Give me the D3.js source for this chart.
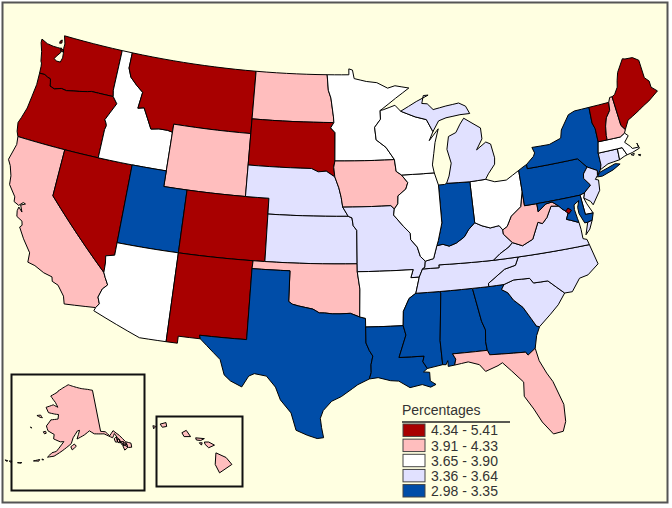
<!DOCTYPE html>
<html>
<head>
<meta charset="UTF-8">
<title>Percentages by state</title>
<script src="https://d3js.org/d3.v7.min.js"></script>
<style>
  html, body { margin: 0; padding: 0; background: #fff; }
  svg { display: block; }
  text { font-family: "Liberation Sans", Arial, sans-serif; fill: #333; }
</style>
</head>
<body>
<svg id="map" width="672" height="508"></svg>
<script>
// legend classes, top to bottom
const classLabels = ["4.34 - 5.41", "3.91 - 4.33", "3.65 - 3.90", "3.36 - 3.64", "2.98 - 3.35"];
const legendTitle = "Percentages";

// class of each state
const class1 = ["WA", "OR", "MT", "SD", "NV", "CO", "NM", "VT", "ME", "DC"];
const class2 = ["CA", "ND", "WY", "IA", "OK", "WV", "NH", "FL", "AK", "HI"];
const class3 = ["ID", "AZ", "MN", "WI", "IL", "OH", "AR", "MA", "DE", "RI"];
const class4 = ["NE", "KS", "MO", "MI", "KY", "TN", "NC", "VA", "SC", "NJ", "CT"];
const class5 = ["UT", "TX", "LA", "MS", "AL", "GA", "IN", "NY", "PA", "MD"];

// shared borders, lon/lat
const columbia = [[-124.0,46.25],[-123.5,46.26],[-123.2,46.15],[-122.9,46.1],[-122.8,45.85],[-122.75,45.65],[-122.3,45.55],[-121.7,45.7],[-121.2,45.65],[-120.6,45.74],[-120.0,45.82],[-119.3,45.93],[-118.98,46.0],[-116.92,46.0]];
const snake = [[-116.92,46.0],[-116.46,45.6],[-116.85,45.0],[-117.2,44.45],[-117.03,44.25],[-116.95,44.1],[-117.03,43.83],[-117.03,42.0]];
const idMt = [[-116.05,49],[-116.05,48.0],[-115.7,47.45],[-115.0,47.0],[-114.35,46.65],[-114.5,45.6],[-113.95,45.7],[-113.45,45.05],[-113.0,44.45],[-112.3,44.55],[-111.5,44.55],[-111.05,44.48]];
const redNorth = [[-97.23,49],[-97.1,48.0],[-96.85,47.5],[-96.6,46.3],[-96.56,45.94]];
const missouriUp = [[-98.5,43.0],[-97.9,42.8],[-97.2,42.85],[-96.45,42.49]];
const missouriMid = [[-96.45,42.49],[-96.1,41.8],[-95.9,41.2],[-95.77,40.58]];
const missouriLow = [[-95.77,40.58],[-95.31,40.0],[-95.0,39.9],[-94.9,39.4],[-94.61,39.11]];
const redSouth = [[-94.48,33.64],[-95.2,33.88],[-96.0,33.85],[-96.6,33.85],[-97.2,33.9],[-97.6,33.9],[-98.1,34.13],[-99.2,34.3],[-99.7,34.4],[-100.0,34.56]];
const sabine = [[-94.04,31.99],[-93.8,31.5],[-93.55,31.15],[-93.7,30.6],[-93.7,30.1],[-93.85,29.7]];
const mississippiUp = [[-91.2,43.5],[-91.1,42.75],[-90.65,42.5]];
const mississippiIl = [[-90.65,42.5],[-90.15,42.0],[-90.35,41.6],[-91.05,41.2],[-91.1,40.7],[-91.42,40.38]];
const mississippiMo = [[-91.42,40.38],[-91.5,40.0],[-90.72,39.25],[-90.2,38.8],[-90.2,38.4],[-89.7,37.9],[-89.5,37.3],[-89.13,36.98]];
const mississippiAr = [[-89.7,36.0],[-90.05,35.0]];
const mississippiMs = [[-90.05,35.0],[-90.6,34.7],[-91.1,33.9],[-91.17,33.0]];
const ohioRiver = [[-82.6,38.42],[-82.85,38.72],[-83.6,38.65],[-84.25,38.85],[-84.82,39.1]];
const ohioIn = [[-84.82,39.1],[-85.4,38.7],[-85.8,38.28],[-86.5,37.95],[-87.1,37.8],[-87.6,37.95],[-88.1,37.9]];
const ohioIl = [[-88.1,37.9],[-88.45,37.1],[-89.13,36.98]];
const ohioWv = [[-80.52,40.64],[-80.85,39.7],[-81.75,39.2],[-82.2,38.6],[-82.6,38.42]];
const tnTop = [[-89.4,36.5],[-88.07,36.5],[-88.07,36.68],[-83.68,36.6]];
const tnNc = [[-81.68,36.59],[-82.0,36.1],[-82.9,35.95],[-83.65,35.55],[-84.3,35.2],[-84.32,34.99]];
const savannah = [[-83.1,35],[-83.35,34.7],[-82.9,34.45],[-82.55,33.95],[-81.9,33.4],[-81.4,32.6],[-81.1,32.1],[-80.88,32.03]];
const ncSc = [[-83.1,35],[-82.3,35.2],[-81.05,35.15],[-80.8,34.82],[-79.67,34.8],[-78.55,33.86]];
const kyVa = [[-83.68,36.6],[-83.1,36.95],[-82.3,37.3],[-81.97,37.54]];
const kyWv = [[-81.97,37.54],[-82.6,38.15],[-82.6,38.42]];
const vaWv = [[-81.97,37.54],[-81.2,37.25],[-80.3,37.55],[-79.65,38.55],[-79.3,38.42],[-78.85,38.75],[-78.35,39.4],[-77.72,39.32]];
const potomacLow = [[-76.35,38.05],[-77.0,38.3],[-77.3,38.4],[-77.05,38.8],[-77.5,39.1],[-77.72,39.32]];
const potomacUp = [[-77.72,39.32],[-78.2,39.65],[-78.75,39.6],[-79.48,39.2],[-79.48,39.72]];
const delaware = [[-74.7,41.36],[-75.13,40.98],[-75.2,40.7],[-74.75,40.2],[-75.4,39.8]];
const hudson = [[-74.7,41.36],[-73.92,41.0],[-74.0,40.7]];
const wiMiBorder = [[-90.4,46.55],[-89.1,46.13],[-88.1,45.9],[-87.6,45.1]];
const vtNh = [[-71.5,45.01],[-71.6,44.5],[-72.05,44.1],[-72.3,43.6],[-72.45,43.0],[-72.46,42.73]];
const vtNy = [[-73.34,45.01],[-73.4,44.0],[-73.25,43.6],[-73.27,42.75]];
const ctNy = [[-73.5,42.05],[-73.5,41.3],[-73.65,41.0]];
const crest = [[-71.08,45.3],[-70.98,43.4],[-70.7,43.07]];

const r = a => a.slice().reverse();

// state outlines, lon/lat
const stateShapes = {
  WA: [[[-122.75,49],[-117.04,49],[-117.04,46.4],...r(columbia),[-124.05,46.7],[-124.1,46.9],[-124.2,47.0],[-124.4,47.6],[-124.7,48.15],[-124.72,48.38],[-124.1,48.2],[-123.5,48.15],[-123.1,48.15],[-122.75,48.15],[-122.65,47.9],[-122.95,47.6],[-123.1,47.4],[-122.8,47.3],[-122.45,47.3],[-122.35,47.6],[-122.4,47.9],[-122.5,48.2],[-122.5,48.5]],
      [[-123.0,48.6],[-122.85,48.7],[-122.8,48.5],[-123.0,48.45]],[[-122.75,48.2],[-122.45,48.05],[-122.55,47.95],[-122.7,48.05]]],
  OR: [[...columbia,...snake,[-124.2,42.0],[-124.4,42.3],[-124.55,42.85],[-124.4,43.2],[-124.15,43.9],[-124.05,44.7],[-123.95,45.5]]],
  CA: [[[-124.2,42.0],[-120,42],[-120,39],[-114.63,35.0],[-114.45,34.7],[-114.15,34.27],[-114.5,33.95],[-114.7,33.4],[-114.5,33.0],[-114.72,32.72],[-117.12,32.53],[-117.3,33.0],[-117.9,33.6],[-118.4,33.75],[-118.5,34.02],[-119.2,34.15],[-120.0,34.45],[-120.6,34.55],[-120.65,35.15],[-121.4,35.9],[-121.95,36.55],[-121.8,36.7],[-121.9,36.95],[-122.4,37.15],[-122.5,37.5],[-122.45,37.75],[-122.1,37.5],[-122.35,37.9],[-122.0,38.05],[-122.2,38.1],[-122.5,37.85],[-122.95,38.0],[-123.0,38.3],[-123.7,38.95],[-123.8,39.5],[-124.1,40.1],[-124.4,40.45],[-124.1,41.5]]],
  NV: [[[-120,42],[-114.04,42],[-114.05,37],[-114.05,36.2],[-114.74,36.05],[-114.65,35.6],[-114.63,35.0],[-120,39]]],
  ID: [[[-117.04,49],[-116.05,49],...idMt.slice(1),[-111.05,42],[-117.03,42],...r(snake).slice(1),[-117.04,46.4]]],
  MT: [[...idMt,[-111.05,45],[-104.05,45],[-104.05,49]]],
  WY: [[[-111.05,45],[-104.05,45],[-104.05,41],[-111.05,41]]],
  UT: [[[-114.04,42],[-111.05,42],[-111.05,41],[-109.05,41],[-109.05,37],[-114.05,37]]],
  AZ: [[[-114.05,37],[-109.05,37],[-109.05,31.33],[-111.07,31.33],[-114.81,32.5],[-114.72,32.72],[-114.5,33.0],[-114.7,33.4],[-114.5,33.95],[-114.15,34.27],[-114.45,34.7],[-114.63,35.0],[-114.65,35.6],[-114.74,36.05],[-114.05,36.2]]],
  CO: [[[-109.05,41],[-102.05,41],[-102.05,37],[-109.05,37]]],
  NM: [[[-109.05,37],[-103.0,37],[-103.04,36.5],[-103.05,32],[-106.62,32],[-106.53,31.78],[-108.2,31.78],[-108.2,31.33],[-109.05,31.33]]],
  ND: [[[-104.05,49],...redNorth,[-104.05,45.94]]],
  SD: [[[-104.05,45.94],[-96.56,45.94],[-96.85,45.6],[-96.45,45.3],[-96.45,43.5],[-96.55,43.1],...r(missouriUp),[-104.05,43]]],
  NE: [[[-104.05,43],...missouriUp,...missouriMid.slice(1),[-95.31,40.0],[-102.05,40],[-102.05,41],[-104.05,41]]],
  KS: [[[-102.05,40],[-95.31,40],...missouriLow.slice(2),[-94.62,37],[-102.05,37]]],
  OK: [[[-103,37],[-94.62,37],[-94.62,36.5],[-94.43,35.4],...redSouth,[-100,36.5],[-103.04,36.5]]],
  TX: [[[-106.62,32],[-103.05,32],[-103.04,36.5],[-100,36.5],...r(redSouth),[-94.04,33.55],[-94.04,33.0],...sabine,[-94.7,29.35],[-95.1,29.1],[-95.9,28.6],[-96.6,28.3],[-97.2,27.7],[-97.4,27.2],[-97.3,26.6],[-97.15,25.96],[-97.6,25.9],[-98.3,26.1],[-99.1,26.4],[-99.5,27.5],[-100.3,28.3],[-100.7,29.1],[-101.4,29.77],[-102.3,29.88],[-102.7,29.7],[-103.15,28.98],[-104.0,29.3],[-104.5,29.65],[-104.9,30.6],[-106.0,31.4],[-106.53,31.78]]],
  MN: [[[-97.23,49],[-95.15,49],[-95.15,49.38],[-94.8,49.3],[-94.65,48.75],[-93.5,48.55],[-92.5,48.45],[-91.5,48.07],[-90.8,48.2],[-89.5,48.0],[-90.8,47.4],[-92.1,46.75],[-92.29,46.66],[-92.29,46.1],[-92.85,45.6],[-92.75,44.8],[-91.9,44.3],[-91.2,43.5],[-96.45,43.5],[-96.45,45.3],[-96.85,45.6],...r(redNorth)]],
  IA: [[[-96.45,43.5],...mississippiUp,...mississippiIl.slice(1),[-91.7,40.6],[-95.77,40.58],...r(missouriMid).slice(1),[-96.55,43.1]]],
  MO: [[[-95.77,40.58],[-91.7,40.6],...mississippiMo,[-89.2,36.6],[-89.4,36.5],[-89.7,36],[-90.37,36],[-90.15,36.5],[-94.62,36.5],[-94.62,37],...r(missouriLow)]],
  AR: [[[-94.62,36.5],[-90.15,36.5],[-90.37,36],...mississippiAr,...mississippiMs.slice(1),[-94.04,33],[-94.04,33.55],[-94.48,33.64],[-94.43,35.4]]],
  LA: [[[-94.04,33],[-91.17,33],[-91.0,32.4],[-91.6,31],[-89.73,31],[-89.85,30.65],[-89.55,30.2],[-89.85,30.0],[-89.4,29.95],[-89.4,29.4],[-89.0,29.15],[-89.4,29.0],[-90.0,29.2],[-90.9,29.05],[-91.7,29.5],[-92.3,29.55],[-93.2,29.77],...r(sabine)]],
  MS: [[[-91.17,33],...r(mississippiMs),[-88.2,35],[-88.1,34.9],[-88.45,31.9],[-88.4,30.37],[-89.55,30.2],[-89.85,30.65],[-89.73,31],[-91.6,31],[-91.0,32.4]]],
  AL: [[[-88.2,35],[-85.6,35],[-85.18,32.87],[-84.96,32.3],[-85.05,31.55],[-85,31],[-87.6,31],[-87.4,30.65],[-87.52,30.28],[-88.0,30.23],[-88.0,30.6],[-88.15,30.35],[-88.4,30.37],[-88.45,31.9],[-88.1,34.9]]],
  GA: [[[-85.6,35],...savannah,[-81.2,31.5],[-81.45,30.72],[-82.05,30.36],[-82.2,30.57],[-84.86,30.7],[-85,31],[-85.05,31.55],[-84.96,32.3],[-85.18,32.87]]],
  FL: [[[-87.6,31],[-85,31],[-84.86,30.7],[-82.2,30.57],[-82.05,30.36],[-81.45,30.72],[-81.3,29.9],[-80.9,29.05],[-80.55,28.45],[-80.05,26.9],[-80.12,25.8],[-80.4,25.2],[-81.1,25.13],[-81.75,26.0],[-82.2,26.9],[-82.75,27.8],[-82.65,28.7],[-83.4,29.5],[-84.0,30.1],[-84.35,29.95],[-85.3,29.68],[-85.7,30.15],[-86.5,30.4],[-87.52,30.28],[-87.4,30.65]]],
  SC: [[...ncSc,[-79.2,33.2],[-79.9,32.7],[-80.88,32.03],...r(savannah).slice(1,-1)]],
  NC: [[[-84.32,34.99],...ncSc,[-77.95,33.85],[-77.2,34.6],[-76.5,34.7],[-75.55,35.25],[-75.9,36.55],[-81.68,36.59],...tnNc.slice(1)]],
  TN: [[[-90.05,35],[-88.2,35],[-85.6,35],[-84.32,34.99],...r(tnNc),[-83.68,36.6],...r(tnTop).slice(1),[-89.7,36]]],
  KY: [[...tnTop,...kyVa.slice(1),...kyWv.slice(1),...ohioRiver.slice(1),...ohioIn.slice(1),...ohioIl.slice(1),[-89.2,36.6]]],
  VA: [[[-83.68,36.6],[-81.68,36.59],[-75.9,36.55],[-76.0,36.9],[-76.3,37.0],[-76.3,37.6],[-76.35,38.05],...potomacLow.slice(1),...r(vaWv).slice(1),...r(kyVa).slice(1)],
       [[-75.25,38.03],[-75.65,37.95],[-76.0,37.2],[-75.6,37.5]]],
  WV: [[[-82.6,38.15],...vaWv,...potomacUp.slice(1),[-80.52,39.72],...ohioWv,[-82.6,38.42]]],
  OH: [[[-84.82,41.7],[-83.45,41.73],[-82.7,41.5],[-81.7,41.5],[-80.52,41.98],...ohioWv,...ohioRiver.slice(1)]],
  IN: [[[-87.53,41.7],[-87.0,41.7],[-86.82,41.76],[-84.82,41.7],...ohioIn,[-87.95,38.2],[-87.53,39.3]]],
  IL: [[[-87.53,41.7],[-87.8,42.49],...mississippiIl,...mississippiMo.slice(1),...r(ohioIl).slice(1),[-87.95,38.2],[-87.53,39.3]]],
  WI: [[[-92.29,46.66],[-92.0,46.7],[-90.9,46.95],...wiMiBorder,[-88.0,44.55],[-87.1,45.25],[-87.5,44.4],[-87.7,43.7],[-87.9,43],[-87.8,42.49],[-90.65,42.5],[-91.1,42.75],[-91.2,43.5],[-91.9,44.3],[-92.75,44.8],[-92.85,45.6],[-92.29,46.1]]],
  MI: [[[-86.82,41.76],[-84.82,41.7],[-83.45,41.73],[-83.15,42.05],[-82.5,42.6],[-82.42,43],[-82.6,43.9],[-83.0,44.07],[-83.9,43.65],[-83.3,44.3],[-83.3,45.0],[-84.7,45.75],[-85.1,45.4],[-85.55,44.9],[-86.25,44.7],[-86.5,43.9],[-86.25,43],[-86.55,42.2]],
       [...wiMiBorder,[-87.0,45.75],[-86.3,45.9],[-85,46],[-84.1,46],[-84.4,46.5],[-85,46.75],[-86.2,46.65],[-87.4,46.5],[-87.9,46.9],[-88.4,46.95],[-88.2,47.45],[-87.75,47.45],[-88.9,47.1]]],
  PA: [[[-80.52,41.98],[-80.1,42.15],[-79.76,42.27],[-79.76,42],[-75.35,42],...delaware,[-75.79,39.72],[-80.52,39.72]]],
  NY: [[[-79.76,42.27],[-79.05,42.7],[-78.9,42.9],[-79.05,43.27],[-77.5,43.25],[-76.4,43.5],[-76.2,44],[-75.3,44.85],[-74.7,45],...vtNy,[-73.5,42.05],...ctNy.slice(1),...r(hudson),[-75.35,42],[-79.76,42]],
       [[-74.03,40.6],[-73.75,40.85],[-72.3,41.15],[-71.9,41.05],[-72.6,40.8],[-73.6,40.58]]],
  NJ: [[...hudson,[-74.25,40.48],[-74,40.4],[-74.1,39.75],[-74.9,38.95],[-75.05,39.2],[-75.55,39.5],...r(delaware).slice(0,-1)]],
  DE: [[[-75.79,39.72],[-75.4,39.8],[-75.55,39.5],[-75.4,39.1],[-75.05,38.45],[-75.7,38.46]]],
  MD: [[[-79.48,39.72],[-75.79,39.72],[-75.7,38.46],[-75.05,38.45],[-75.25,38.03],[-75.65,37.95],[-75.9,37.95],[-76.2,38.6],[-76.2,39.0],[-76.0,39.4],[-76.45,39.2],[-76.5,38.9],[-76.4,38.3],...potomacLow,...potomacUp.slice(1,-1)]],
  DC: [[[-77.0,39.08],[-76.75,38.9],[-77.0,38.72],[-77.25,38.9]]],
  CT: [[[-73.5,42.05],[-71.8,42.02],[-71.85,41.32],[-72.9,41.25],...r(ctNy)]],
  RI: [[[-71.8,42.02],[-71.38,42.02],[-71.12,41.5],[-71.4,41.45],[-71.85,41.32]]],
  MA: [[[-73.5,42.05],[-73.27,42.75],[-71.3,42.7],[-70.85,42.87],[-70.6,42.65],[-71.05,42.3],[-70.65,41.95],[-70.55,41.8],[-70.0,41.78],[-70.05,42.05],[-69.95,41.7],[-70.65,41.55],[-71.12,41.5],[-71.38,42.02],[-71.8,42.02]],
       [[-70.8,41.45],[-70.5,41.47],[-70.6,41.35]],[[-70.2,41.32],[-70.0,41.3],[-70.05,41.22]]],
  VT: [[...vtNy,...r(vtNh)]],
  NH: [[...vtNh,[-71.3,42.7],[-70.85,42.87],...r(crest),[-71.3,45.3]]],
  ME: [[...crest,[-70.25,43.6],[-69.8,43.75],[-69.1,44],[-68.6,44.2],[-68,44.4],[-67,44.85],[-67.45,45.2],[-67.45,45.6],[-67.78,45.9],[-67.8,47.07],[-68.3,47.35],[-69,47.4],[-69.23,47.46],[-70,46.7],[-70.25,46.2],[-70.4,45.8],[-70.8,45.4]]]
};

const alaskaShape = [
  [[-141,69.65],[-141,60.3],[-139,60],[-137.5,58.9],[-135.5,59.8],[-133.5,58.4],[-131.8,56.6],[-130,55.9],[-130.3,55],[-131.5,55.2],[-133,56.2],[-134.5,58],[-135.3,59.1],[-136.5,58.3],[-139.7,59.6],[-144,60],[-146,60.8],[-148.5,60],[-151.8,59.2],[-150.5,61.1],[-151.5,61],[-153.5,59.5],[-154.3,58.2],[-158,56.5],[-161,55.2],[-163.5,54.8],[-162,55.9],[-160.3,56.3],[-157.5,58.6],[-159,58.5],[-162,59],[-162,60],[-165,60.6],[-166.1,61.6],[-165,62.6],[-164.5,63.1],[-161,63.5],[-161,64.5],[-163,64.5],[-166.3,64.6],[-168.1,65.65],[-164.5,66.5],[-161.8,66.1],[-163.5,67.1],[-166.8,68.35],[-163,69.5],[-162.9,69.7],[-160,70.55],[-156.6,71.35],[-152,70.85],[-148,70.4],[-144,70.05]],
  [[-171.7,63.4],[-170,63.7],[-168.8,63.2],[-170,63.2]],
  [[-167,60.2],[-166,60.4],[-165.6,60],[-166.3,59.8]],
  [[-154.5,57.5],[-153,58.1],[-152.2,57.6],[-153.9,56.8]],
  [[-168.5,53.4],[-166.3,54],[-166.5,53.6]],[[-165.5,54.2],[-164.8,54.1],[-165.3,54]],[[-172.5,52.4],[-174,52.1],[-172.8,52.2]],[[-177,51.9],[-176,52],[-176.5,51.7]],[[-178.5,51.8],[-177.5,51.8],[-178,51.6]],
  [[-172.5,60.4],[-172.9,60.4],[-173.1,60.6]],
  [[-136,58],[-134.9,58.3],[-135,57.1],[-135.8,57.2]],[[-134.8,57.8],[-133.9,57.5],[-134.4,56.8],[-134.9,57]],[[-134,57],[-132.6,56.8],[-132.9,56.1],[-133.6,56.2]],[[-133.4,56],[-131.6,55.9],[-131.9,55.2],[-133.2,54.9]],[[-132.4,56.5],[-131.7,56.3],[-132,55.9]]
];

const hawaiiShape = [
  [[-159.75,22.1],[-159.35,22.2],[-159.3,21.95],[-159.6,21.9]],
  [[-160.25,22.0],[-160.05,21.95],[-160.2,21.8]],
  [[-158.25,21.55],[-157.95,21.7],[-157.65,21.3],[-158.1,21.3]],
  [[-157.3,21.22],[-156.7,21.17],[-156.95,21.05],[-157.25,21.08]],
  [[-157.05,20.9],[-156.85,20.9],[-156.9,20.75]],
  [[-156.7,20.95],[-156.4,20.95],[-156.0,20.75],[-156.4,20.58],[-156.65,20.8]],
  [[-155.9,20.25],[-155.2,19.95],[-154.8,19.5],[-155.65,18.95],[-155.95,19.5]]
];

const mapProjection = d3.geoAlbers().rotate([96, 0]).center([0, 37.5]).scale(900).translate([340, 256]);
const akProjection = d3.geoConicEqualArea().parallels([55, 65]).rotate([154, 0]).center([0, 63]).scale(257).translate([72, 422]);
const hiProjection = d3.geoMercator().rotate([157, 0]).center([0, 20.5]).scale(830).translate([200, 449]);

// long edges are split so parallels keep their curve in the projection
function split(ring) {
  const out = [];
  ring.forEach((p, i) => {
    const q = ring[(i + 1) % ring.length];
    const n = Math.max(Math.ceil(Math.abs(q[0] - p[0])), 1);
    for (let k = 0; k < n; k++) {
      out.push([p[0] + (q[0] - p[0]) * k / n, p[1] + (q[1] - p[1]) * k / n]);
    }
  });
  out.push(out[0]);
  return out;
}

function pathFor(projection) {
  return d3.geoPath(d3.geoTransform({
    point(x, y) { const p = projection([x, y]); this.stream.point(p[0], p[1]); }
  }));
}

const colorScale = d3.scaleOrdinal(classLabels, ["#a80000", "#ffbebe", "#ffffff", "#e1e1ff", "#004da8"]);
const classes = [class1, class2, class3, class4, class5];
const classOf = code => classLabels[classes.findIndex(c => c.includes(code))];

const feature = (code, rings) => ({
  type: "Feature",
  id: code,
  geometry: { type: "MultiPolygon", coordinates: rings.map(ring => [split(ring)]) }
});

const svg = d3.select("#map");

svg.append("rect")
  .attr("x", 2.5).attr("y", 2.5).attr("width", 665).attr("height", 500)
  .attr("fill", "#ffffe1").attr("stroke", "#555").attr("stroke-width", 2);

const lower48 = Object.keys(stateShapes).map(code => feature(code, stateShapes[code]));

function drawStates(features, projection) {
  svg.append("g").selectAll("path")
    .data(features)
    .join("path")
    .attr("id", d => d.id)
    .attr("d", pathFor(projection))
    .attr("fill", d => colorScale(classOf(d.id)))
    .attr("stroke", "#000")
    .attr("stroke-width", 1)
    .attr("stroke-linejoin", "round");
}

drawStates(lower48, mapProjection);

// inset frames
[[11.5, 374.5, 133, 116], [156.5, 416.5, 86, 70]].forEach(b => {
  svg.append("rect")
    .attr("x", b[0]).attr("y", b[1]).attr("width", b[2]).attr("height", b[3])
    .attr("fill", "none").attr("stroke", "#111").attr("stroke-width", 2);
});

drawStates([feature("AK", alaskaShape)], akProjection);
drawStates([feature("HI", hawaiiShape)], hiProjection);

// legend
const legendY = d3.scaleBand().domain(classLabels).range([424, 497]).paddingInner(0.18);
const legend = svg.append("g");

legend.append("text").attr("x", 402).attr("y", 415).attr("font-size", 14).text(legendTitle);
legend.append("line").attr("x1", 402).attr("x2", 510).attr("y1", 422).attr("y2", 422)
  .attr("stroke", "#222").attr("stroke-width", 1.5);

const rows = legend.selectAll("g").data(classLabels).join("g");
rows.append("rect")
  .attr("x", 403).attr("y", d => legendY(d)).attr("width", 22).attr("height", legendY.bandwidth())
  .attr("fill", d => colorScale(d)).attr("stroke", "#444").attr("stroke-width", 1);
rows.append("text")
  .attr("x", 431).attr("y", d => legendY(d) + legendY.bandwidth() - 1)
  .attr("font-size", 14).text(d => d);
</script>
</body>
</html>
